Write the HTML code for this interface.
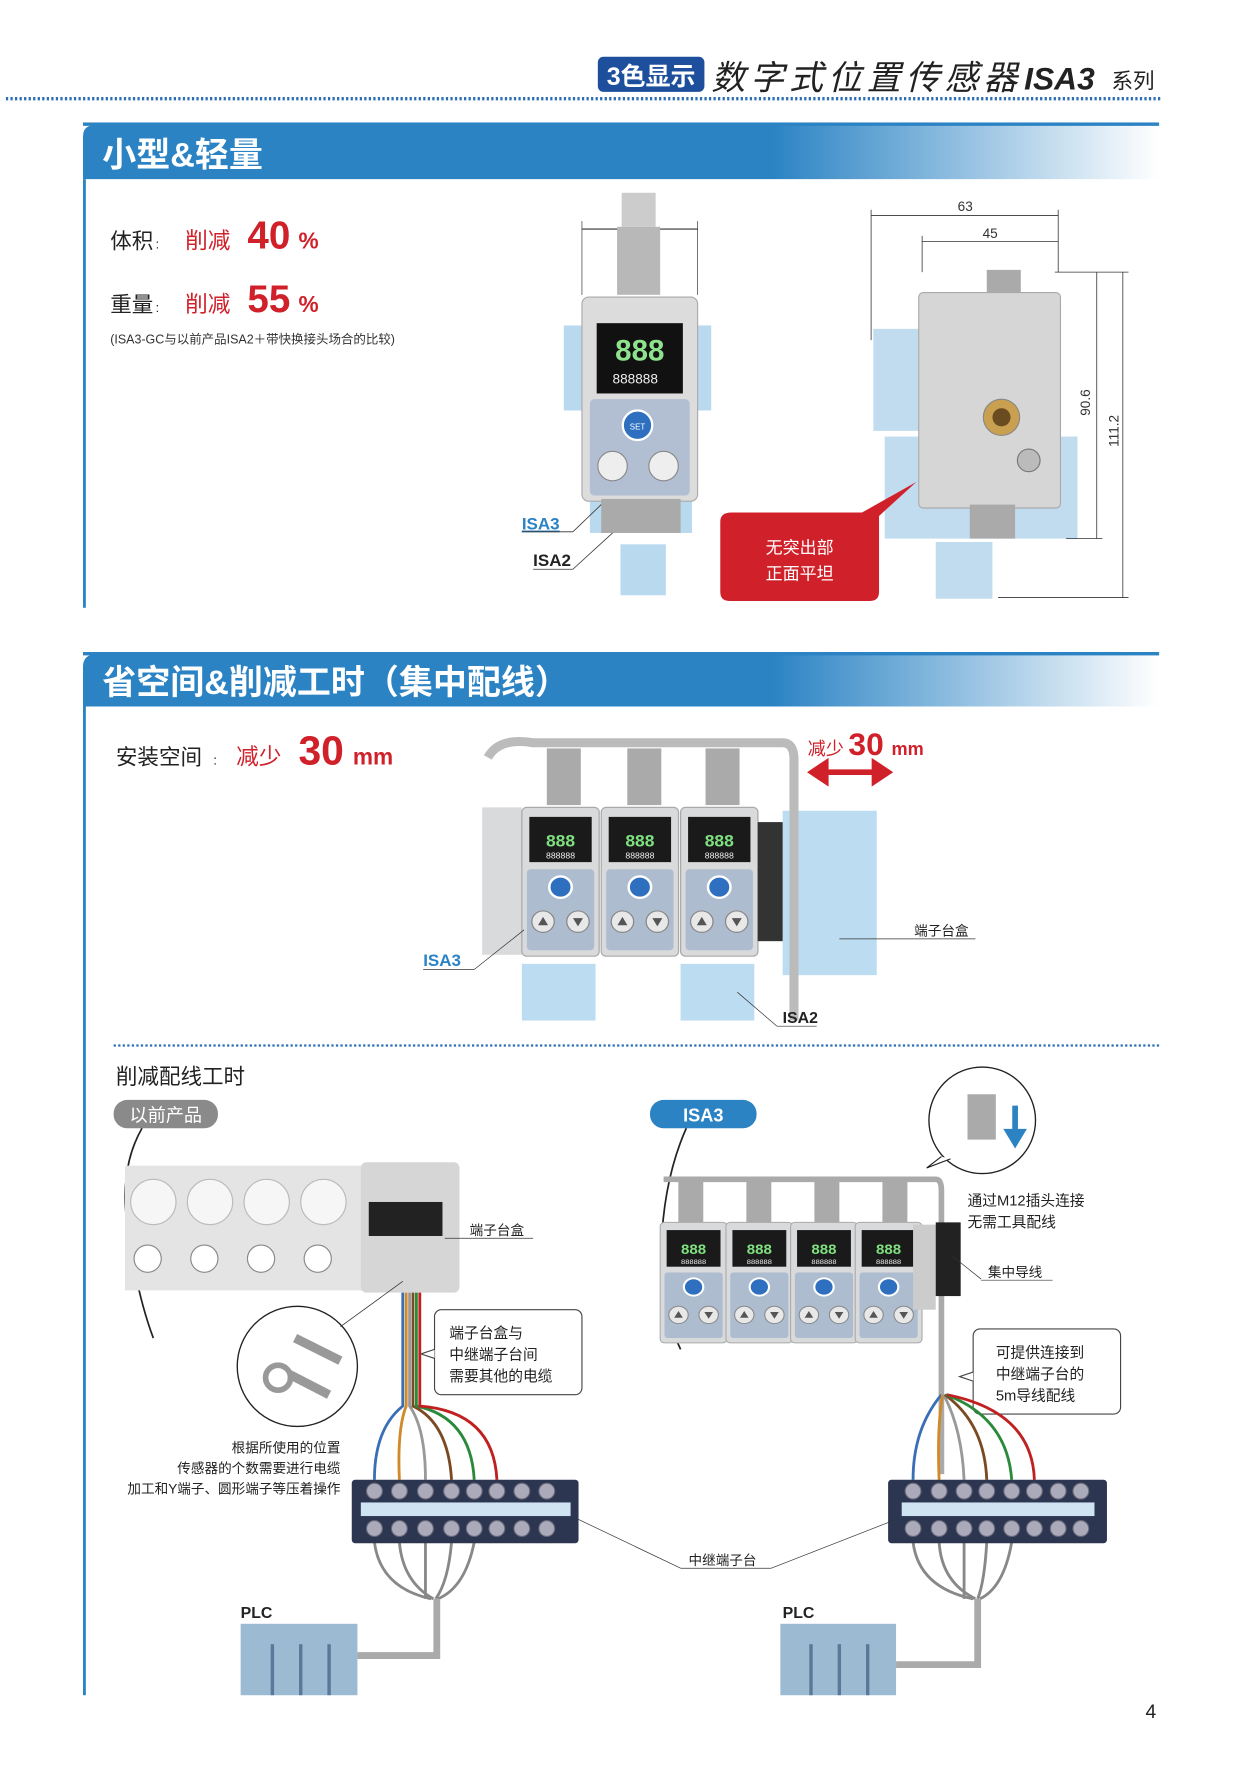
<!DOCTYPE html>
<html><head><meta charset="utf-8"><style>
html,body{margin:0;padding:0;background:#fff;}
svg{display:block;font-family:"Liberation Sans","Noto Sans CJK SC",sans-serif;}
</style></head><body>
<svg width="1241" height="1778" viewBox="0 0 1094 1568" xmlns="http://www.w3.org/2000/svg">
<defs>
<linearGradient id="bar" x1="0" x2="1" y1="0" y2="0">
<stop offset="0" stop-color="#2b83c4"/><stop offset="0.64" stop-color="#2b83c4"/><stop offset="1" stop-color="#ffffff"/>
</linearGradient>
<g id="sens">
<rect x="0" y="0" width="62" height="125" rx="4" fill="#d9dadb" stroke="#aaa"/>
<rect x="6" y="8" width="50" height="38" fill="#1a1a1a"/>
<text x="31" y="33" font-size="14" fill="#7fe07f" text-anchor="middle" font-weight="bold">888</text>
<text x="31" y="43" font-size="7" fill="#eee" text-anchor="middle">888888</text>
<rect x="4" y="52" width="54" height="68" rx="3" fill="#aebcd0"/>
<circle cx="31" cy="67" r="9" fill="#2e6fbf" stroke="#fff" stroke-width="2"/>
<circle cx="17" cy="96" r="9" fill="#e8e8e8" stroke="#888"/>
<circle cx="45" cy="96" r="9" fill="#e8e8e8" stroke="#888"/>
<path d="M13 99 L17 92 L21 99Z M41 93 L49 93 L45 100Z" fill="#555"/>
</g>
<g id="tb">
<rect x="0" y="0" width="200" height="56" rx="3" fill="#2c3650"/>
</g>
</defs>

<!-- header -->
<rect x="527" y="50" width="94" height="31" rx="5" fill="#1d4f9c"/>
<text x="574" y="75" font-size="22" font-weight="bold" fill="#fff" text-anchor="middle">3色显示</text>
<text x="627" y="79" font-size="30" font-style="italic" fill="#222" textLength="270">数字式位置传感器</text>
<text x="903" y="79" font-size="28" font-weight="bold" font-style="italic" fill="#222">ISA3</text>
<text x="980" y="78" font-size="19" fill="#222">系列</text>
<line x1="5" y1="87" x2="1024" y2="87" stroke="#2c6fb5" stroke-width="3" stroke-dasharray="2 2"/>

<!-- section 1 -->
<path d="M73 158 V120 Q73 110 85 110 H1022 V158Z" fill="url(#bar)"/>
<rect x="73" y="108" width="949" height="3" fill="#2b83c4"/>
<rect x="73" y="158" width="2.5" height="378" fill="#2b83c4"/>
<text x="90" y="147" font-size="30" font-weight="bold" fill="#fff">小型&amp;轻量</text>

<text x="97" y="219" font-size="19" fill="#222">体积</text><text x="137" y="219" font-size="11" fill="#222">:</text>
<text x="163" y="219" font-size="20" fill="#d0202a">削减</text>
<text x="218" y="219" font-size="34" font-weight="bold" fill="#d0202a">40</text><text x="263" y="219" font-size="20" font-weight="bold" fill="#d0202a">%</text>
<text x="97" y="275" font-size="19" fill="#222">重量</text><text x="137" y="275" font-size="11" fill="#222">:</text>
<text x="163" y="275" font-size="20" fill="#d0202a">削减</text>
<text x="218" y="275" font-size="34" font-weight="bold" fill="#d0202a">55</text><text x="263" y="275" font-size="20" font-weight="bold" fill="#d0202a">%</text>
<text x="97" y="303" font-size="11" fill="#333">(ISA3-GC与以前产品ISA2＋带快换接头场合的比较)</text>

<!-- sensor 1 -->
<g fill="#b9d9ef">
<rect x="497" y="287" width="130" height="75"/><rect x="520" y="430" width="90" height="40"/><rect x="547" y="480" width="40" height="45"/>
</g>
<line x1="513" y1="202" x2="615" y2="202" stroke="#333"/><line x1="513" y1="195" x2="513" y2="260" stroke="#333" stroke-width=".6"/><line x1="615" y1="195" x2="615" y2="260" stroke="#333" stroke-width=".6"/>
<text x="564" y="198" font-size="12" fill="#333" text-anchor="middle">38</text>
<rect x="548" y="170" width="30" height="30" fill="#ccc"/><rect x="544" y="200" width="38" height="60" fill="#b8b8b8"/>
<rect x="513" y="262" width="102" height="180" rx="6" fill="#dcdcdc" stroke="#aaa"/>
<rect x="526" y="285" width="76" height="62" fill="#111"/>
<text x="564" y="318" font-size="26" fill="#8ee28e" text-anchor="middle" font-weight="bold">888</text>
<text x="560" y="338" font-size="12" fill="#eee" text-anchor="middle">888888</text>
<rect x="520" y="352" width="88" height="85" rx="4" fill="#b2bfd2"/>
<circle cx="562" cy="375" r="13" fill="#2e6fbf" stroke="#fff" stroke-width="2"/>
<text x="562" y="379" font-size="7" fill="#fff" text-anchor="middle">SET</text>
<circle cx="540" cy="411" r="13" fill="#eee" stroke="#888"/><circle cx="585" cy="411" r="13" fill="#eee" stroke="#888"/>
<rect x="530" y="440" width="70" height="30" fill="#aaa"/>
<text x="460" y="467" font-size="15" font-weight="bold" fill="#2b83c4" text-decoration="underline">ISA3</text>
<line x1="460" y1="469" x2="505" y2="469" stroke="#333" stroke-width=".7"/><line x1="505" y1="469" x2="530" y2="445" stroke="#333" stroke-width=".7"/>
<text x="470" y="499" font-size="15" font-weight="bold" fill="#222">ISA2</text>
<line x1="470" y1="502" x2="505" y2="502" stroke="#333" stroke-width=".7"/><line x1="505" y1="502" x2="540" y2="470" stroke="#333" stroke-width=".7"/>

<!-- side view -->
<g fill="#c2dcef">
<rect x="770" y="290" width="40" height="90"/><rect x="780" y="385" width="170" height="90"/><rect x="825" y="478" width="50" height="50"/>
</g>
<g stroke="#333" stroke-width=".7" fill="none">
<line x1="768" y1="190" x2="933" y2="190"/><line x1="768" y1="185" x2="768" y2="300"/><line x1="933" y1="185" x2="933" y2="240"/>
<line x1="813" y1="213" x2="933" y2="213"/><line x1="813" y1="208" x2="813" y2="240"/>
<line x1="967" y1="240" x2="967" y2="475"/><line x1="990" y1="240" x2="990" y2="527"/>
<line x1="930" y1="240" x2="995" y2="240"/><line x1="940" y1="475" x2="972" y2="475"/><line x1="880" y1="527" x2="995" y2="527"/>
</g>
<text x="851" y="186" font-size="12" fill="#333" text-anchor="middle">63</text>
<text x="873" y="210" font-size="12" fill="#333" text-anchor="middle">45</text>
<text x="961" y="355" font-size="12" fill="#333" transform="rotate(-90 961 355)" text-anchor="middle">90.6</text>
<text x="986" y="380" font-size="12" fill="#333" transform="rotate(-90 986 380)" text-anchor="middle">111.2</text>
<rect x="870" y="238" width="30" height="22" fill="#aaa"/>
<rect x="810" y="258" width="125" height="190" rx="4" fill="#d6d6d6" stroke="#aaa"/>
<circle cx="883" cy="368" r="16" fill="#c9a050" stroke="#888"/><circle cx="883" cy="368" r="8" fill="#6b4c20"/>
<circle cx="907" cy="406" r="10" fill="#bbb" stroke="#777"/>
<rect x="855" y="445" width="40" height="30" fill="#aaa"/>
<path d="M645 452 H760 L808 425 L775 455 V522 Q775 530 767 530 H643 Q635 530 635 522 V460 Q635 452 645 452Z" fill="#d0202a"/>
<text x="705" y="488" font-size="15" fill="#fff" text-anchor="middle">无突出部</text>
<text x="705" y="511" font-size="15" fill="#fff" text-anchor="middle">正面平坦</text>

<!-- section 2 -->
<path d="M73 623 V588 Q73 577 85 577 H1022 V623Z" fill="url(#bar)"/>
<rect x="73" y="575" width="949" height="3" fill="#2b83c4"/>
<rect x="73" y="623" width="2.5" height="872" fill="#2b83c4"/>
<text x="90" y="612" font-size="30" font-weight="bold" fill="#fff">省空间&amp;削减工时（集中配线）</text>

<text x="102" y="674" font-size="19" fill="#222">安装空间</text><text x="188" y="674" font-size="11">:</text>
<text x="208" y="674" font-size="20" fill="#d0202a">减少</text>
<text x="263" y="674" font-size="36" font-weight="bold" fill="#d0202a">30</text><text x="311" y="674" font-size="20" font-weight="bold" fill="#d0202a">mm</text>

<rect x="690" y="715" width="83" height="145" fill="#bcdcf1"/>
<rect x="460" y="850" width="65" height="50" fill="#bcdcf1"/><rect x="600" y="850" width="65" height="50" fill="#bcdcf1"/>
<path d="M430 668 Q440 650 470 655 H690 Q700 655 700 670 V900" fill="none" stroke="#bbb" stroke-width="8"/>
<g fill="#aaa"><rect x="482" y="660" width="30" height="50"/><rect x="553" y="660" width="30" height="50"/><rect x="622" y="660" width="30" height="50"/></g>
<rect x="425" y="712" width="35" height="130" fill="#d9dadb"/>
<g transform="translate(460,712) scale(1.1,1.05)"><use href="#sens"/></g>
<g transform="translate(530,712) scale(1.1,1.05)"><use href="#sens"/></g>
<g transform="translate(600,712) scale(1.1,1.05)"><use href="#sens"/></g>
<rect x="668" y="725" width="22" height="105" fill="#333"/>
<text x="712" y="666" font-size="16" fill="#d0202a">减少</text>
<text x="748" y="666" font-size="28" font-weight="bold" fill="#d0202a">30</text><text x="786" y="666" font-size="16" font-weight="bold" fill="#d0202a">mm</text>
<path d="M716 681 H783 M716 681 l12 -8 v16z M783 681 l-12 -8 v16z" stroke="#d0202a" stroke-width="5" fill="#d0202a"/>
<text x="806" y="825" font-size="12" fill="#222">端子台盒</text><line x1="740" y1="828" x2="860" y2="828" stroke="#333" stroke-width=".6"/>
<text x="373" y="852" font-size="15" font-weight="bold" fill="#2b83c4">ISA3</text>
<line x1="373" y1="855" x2="418" y2="855" stroke="#333" stroke-width=".6"/><line x1="418" y1="855" x2="462" y2="820" stroke="#333" stroke-width=".6"/>
<text x="690" y="902" font-size="14" font-weight="bold" fill="#222">ISA2</text>
<line x1="685" y1="905" x2="720" y2="905" stroke="#333" stroke-width=".6"/><line x1="685" y1="905" x2="650" y2="875" stroke="#333" stroke-width=".6"/>

<line x1="100" y1="922" x2="1022" y2="922" stroke="#2c6fb5" stroke-width="2" stroke-dasharray="2 2"/>
<text x="102" y="956" font-size="19" fill="#222">削减配线工时</text>
<rect x="100" y="970" width="92" height="25" rx="12" fill="#8a8a8a"/>
<text x="146" y="989" font-size="16" fill="#fff" text-anchor="middle">以前产品</text>
<rect x="573" y="970" width="94" height="25" rx="12" fill="#2b83c4"/>
<text x="620" y="989" font-size="16" font-weight="bold" fill="#fff" text-anchor="middle">ISA3</text>

<!-- left old product -->
<path d="M125 995 Q105 1030 112 1080 Q120 1140 135 1180" fill="none" stroke="#222" stroke-width="1.5"/>
<rect x="110" y="1028" width="215" height="110" fill="#e4e4e4"/>
<g fill="#f6f6f6" stroke="#bbb"><circle cx="135" cy="1060" r="20"/><circle cx="185" cy="1060" r="20"/><circle cx="235" cy="1060" r="20"/><circle cx="285" cy="1060" r="20"/></g>
<g fill="#fff" stroke="#888"><circle cx="130" cy="1110" r="12"/><circle cx="180" cy="1110" r="12"/><circle cx="230" cy="1110" r="12"/><circle cx="280" cy="1110" r="12"/></g>
<rect x="318" y="1025" width="87" height="115" rx="5" fill="#d6d6d6"/>
<rect x="325" y="1060" width="65" height="30" fill="#222"/>
<text x="414" y="1089" font-size="12" fill="#222">端子台盒</text><line x1="392" y1="1092" x2="470" y2="1092" stroke="#333" stroke-width=".6"/>
<circle cx="262" cy="1205" r="53" fill="#fff" stroke="#222" stroke-width="1.2"/>
<line x1="300" y1="1170" x2="355" y2="1130" stroke="#333" stroke-width=".7"/>
<circle cx="245" cy="1215" r="11" fill="none" stroke="#999" stroke-width="5"/>
<path d="M255 1212 L290 1230" stroke="#999" stroke-width="8"/>
<path d="M260 1180 L300 1200" stroke="#999" stroke-width="8"/>
<text x="300" y="1281" font-size="12" fill="#222" text-anchor="end">根据所使用的位置</text>
<text x="300" y="1299" font-size="12" fill="#222" text-anchor="end">传感器的个数需要进行电缆</text>
<text x="300" y="1317" font-size="12" fill="#222" text-anchor="end">加工和Y端子、圆形端子等压着操作</text>
<rect x="383" y="1155" width="130" height="75" rx="6" fill="#fff" stroke="#444"/>
<path d="M383 1190 l-12 4 l12 4" fill="#fff" stroke="#444"/>
<text x="396" y="1180" font-size="13" fill="#222">端子台盒与</text>
<text x="396" y="1199" font-size="13" fill="#222">中继端子台间</text>
<text x="396" y="1218" font-size="13" fill="#222">需要其他的电缆</text>

<!-- cables left -->
<g fill="none" stroke-width="2.5">
<path d="M355 1140 V1240 Q330 1260 330 1305" stroke="#3a6fb8"/>
<path d="M358 1140 V1240 Q350 1260 352 1305" stroke="#d08a2a"/>
<path d="M361 1140 V1240 Q375 1260 375 1305" stroke="#999"/>
<path d="M364 1140 V1240 Q395 1255 398 1305" stroke="#7b4a22"/>
<path d="M367 1140 V1240 Q415 1250 418 1305" stroke="#2a8a3a"/>
<path d="M370 1140 V1240 Q435 1245 438 1305" stroke="#c02020"/>
<path d="M330 1360 Q335 1400 380 1410 M352 1360 Q355 1395 382 1410 M375 1360 V1410 M398 1360 Q395 1395 384 1410 M418 1360 Q410 1400 386 1410" stroke="#888"/>
</g>
<path d="M385 1410 V1460 H315" fill="none" stroke="#aaa" stroke-width="6"/>
<rect x="310" y="1305" width="200" height="56" rx="3" fill="#2c3650"/>
<rect x="318" y="1325" width="185" height="12" fill="#cfe3f2"/>
<g fill="#aab" stroke="#667"><circle cx="330" cy="1315" r="7"/><circle cx="352" cy="1315" r="7"/><circle cx="375" cy="1315" r="7"/><circle cx="398" cy="1315" r="7"/><circle cx="418" cy="1315" r="7"/><circle cx="438" cy="1315" r="7"/><circle cx="460" cy="1315" r="7"/><circle cx="482" cy="1315" r="7"/>
<circle cx="330" cy="1348" r="7"/><circle cx="352" cy="1348" r="7"/><circle cx="375" cy="1348" r="7"/><circle cx="398" cy="1348" r="7"/><circle cx="418" cy="1348" r="7"/><circle cx="438" cy="1348" r="7"/><circle cx="460" cy="1348" r="7"/><circle cx="482" cy="1348" r="7"/></g>
<text x="212" y="1427" font-size="14" font-weight="bold" fill="#222">PLC</text>
<rect x="212" y="1432" width="103" height="63" fill="#9dbad3"/>
<g stroke="#5a7897" stroke-width="3"><line x1="240" y1="1450" x2="240" y2="1495"/><line x1="265" y1="1450" x2="265" y2="1495"/><line x1="290" y1="1450" x2="290" y2="1495"/></g>

<!-- right ISA3 -->
<path d="M605 995 Q585 1040 583 1100 Q585 1160 600 1190" fill="none" stroke="#222" stroke-width="1.5"/>
<path d="M585 1040 H825 Q830 1040 830 1050 V1300" fill="none" stroke="#aaa" stroke-width="5"/>
<g fill="#aaa"><rect x="598" y="1038" width="22" height="40"/><rect x="658" y="1038" width="22" height="40"/><rect x="718" y="1038" width="22" height="40"/><rect x="778" y="1038" width="22" height="40"/></g>
<g transform="translate(582,1078) scale(0.95,0.85)"><use href="#sens"/></g>
<g transform="translate(640,1078) scale(0.95,0.85)"><use href="#sens"/></g>
<g transform="translate(697,1078) scale(0.95,0.85)"><use href="#sens"/></g>
<g transform="translate(754,1078) scale(0.95,0.85)"><use href="#sens"/></g>
<rect x="805" y="1080" width="20" height="75" fill="#ccc"/>
<rect x="825" y="1078" width="22" height="65" fill="#222"/>
<circle cx="866" cy="988" r="47" fill="#fff" stroke="#222" stroke-width="1.2"/>
<path d="M830 1020 L817 1030 L838 1022" fill="#fff" stroke="#222"/>
<rect x="853" y="965" width="25" height="40" fill="#aaa"/>
<path d="M895 975 V1005 M889 998 l6 10 l6 -10z" stroke="#2b83c4" stroke-width="5" fill="#2b83c4"/>
<text x="853" y="1063" font-size="13" fill="#222">通过M12插头连接</text>
<text x="853" y="1082" font-size="13" fill="#222">无需工具配线</text>
<text x="871" y="1126" font-size="12" fill="#222">集中导线</text>
<line x1="840" y1="1108" x2="865" y2="1128" stroke="#333" stroke-width=".6"/><line x1="865" y1="1129" x2="928" y2="1129" stroke="#333" stroke-width=".6"/>
<rect x="858" y="1172" width="130" height="75" rx="6" fill="#fff" stroke="#444"/>
<path d="M858 1210 l-12 4 l12 4" fill="#fff" stroke="#444"/>
<text x="878" y="1197" font-size="13" fill="#222">可提供连接到</text>
<text x="878" y="1216" font-size="13" fill="#222">中继端子台的</text>
<text x="878" y="1235" font-size="13" fill="#222">5m导线配线</text>
<g fill="none" stroke-width="2.5">
<path d="M830 1230 Q805 1260 805 1305" stroke="#3a6fb8"/>
<path d="M831 1230 Q826 1260 828 1305" stroke="#d08a2a"/>
<path d="M832 1230 Q848 1260 850 1305" stroke="#999"/>
<path d="M833 1230 Q868 1255 870 1305" stroke="#7b4a22"/>
<path d="M834 1230 Q888 1250 892 1305" stroke="#2a8a3a"/>
<path d="M835 1230 Q910 1245 912 1305" stroke="#c02020"/>
<path d="M805 1360 Q810 1400 858 1410 M828 1360 Q830 1395 860 1410 M850 1360 V1410 M870 1360 Q868 1395 862 1410 M892 1360 Q885 1400 864 1410" stroke="#888"/>
</g>
<path d="M862 1410 V1468 H790" fill="none" stroke="#aaa" stroke-width="6"/>
<rect x="783" y="1305" width="193" height="56" rx="3" fill="#2c3650"/>
<rect x="795" y="1325" width="170" height="12" fill="#cfe3f2"/>
<g fill="#aab" stroke="#667"><circle cx="805" cy="1315" r="7"/><circle cx="828" cy="1315" r="7"/><circle cx="850" cy="1315" r="7"/><circle cx="870" cy="1315" r="7"/><circle cx="892" cy="1315" r="7"/><circle cx="912" cy="1315" r="7"/><circle cx="933" cy="1315" r="7"/><circle cx="953" cy="1315" r="7"/>
<circle cx="805" cy="1348" r="7"/><circle cx="828" cy="1348" r="7"/><circle cx="850" cy="1348" r="7"/><circle cx="870" cy="1348" r="7"/><circle cx="892" cy="1348" r="7"/><circle cx="912" cy="1348" r="7"/><circle cx="933" cy="1348" r="7"/><circle cx="953" cy="1348" r="7"/></g>
<text x="690" y="1427" font-size="14" font-weight="bold" fill="#222">PLC</text>
<rect x="688" y="1432" width="102" height="63" fill="#9dbad3"/>
<g stroke="#5a7897" stroke-width="3"><line x1="715" y1="1450" x2="715" y2="1495"/><line x1="740" y1="1450" x2="740" y2="1495"/><line x1="765" y1="1450" x2="765" y2="1495"/></g>

<text x="607" y="1380" font-size="12" fill="#222">中继端子台</text>
<line x1="510" y1="1340" x2="600" y2="1383" stroke="#333" stroke-width=".6"/><line x1="600" y1="1383" x2="680" y2="1383" stroke="#333" stroke-width=".6"/>
<line x1="680" y1="1383" x2="790" y2="1340" stroke="#333" stroke-width=".6"/>

<text x="1010" y="1515" font-size="17" fill="#222">4</text>
</svg>
</body></html>
